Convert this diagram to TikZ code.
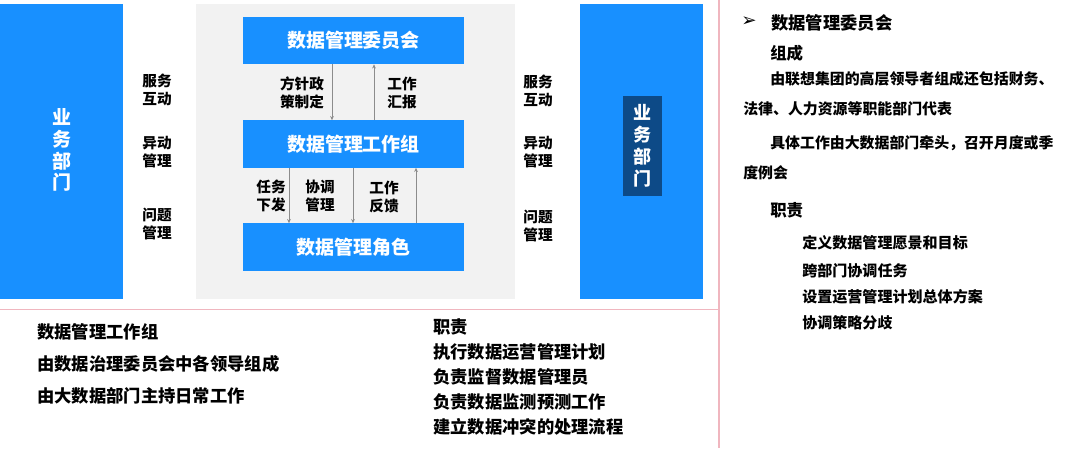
\documentclass[tikz,border=0pt]{standalone}
\usepackage{fontspec}
\setmainfont{Noto Sans CJK SC}
\newfontfamily\symfont{DejaVu Sans}
\usetikzlibrary{arrows.meta,positioning}
\definecolor{deptblue}{HTML}{1890FF}
\definecolor{deptdark}{HTML}{0D4A87}
\definecolor{panelgray}{HTML}{F2F2F2}
\definecolor{rulepink}{HTML}{F0B6BF}
\definecolor{arrowgray}{HTML}{8C8C8C}

\begin{document}
\begin{tikzpicture}[>={Stealth[length=3pt,width=2.6pt]}, x=0.025cm, y=-0.025cm]
\tikzstyle{blk}=[rectangle,fill=deptblue,text=white,inner sep=0pt,minimum width=5.525cm,minimum height=1.175cm,font=\fontsize{13.5}{16}\selectfont\bfseries]
\tikzstyle{dept}=[rectangle,fill=deptblue,inner sep=0pt,minimum width=3.075cm,minimum height=7.375cm]
\tikzstyle{lbl}=[align=center,inner sep=0pt,font=\fontsize{10.4}{12.6}\selectfont\bfseries]
\tikzstyle{txt}=[anchor=west,inner sep=0pt,font=\fontsize{10.6}{12}\selectfont\bfseries]
\tikzstyle{big}=[anchor=west,inner sep=0pt,font=\fontsize{12.3}{14}\selectfont\bfseries]
\tikzstyle{flow}=[->,draw=arrowgray,line width=0.5pt]
\useasboundingbox (0,0) rectangle (1080,448);

% outer departments and the grey panel
\node[dept] (ldept) at (61.5,151.5) {};
\node[dept] (rdept) at (641.5,151.5) {};
\node[rectangle,fill=panelgray,inner sep=0pt,minimum width=7.975cm,minimum height=7.375cm] (panel) at (355.5,151.5) {};
\node[align=center,text=white,inner sep=0pt,font=\fontsize{13.5}{15.6}\selectfont\bfseries] (ltxt) at (62,150) {业\\务\\部\\门};
\node[rectangle,fill=deptdark,text=white,align=center,inner sep=0pt,minimum width=0.975cm,minimum height=2.5cm,font=\fontsize{12.8}{15.6}\selectfont\bfseries] (rtxt) at (642.5,146) {业\\务\\部\\门};

% three levels
\node[blk] (cmt) at (353.5,40.5) {数据管理委员会};
\node[blk] (wg)  at (353.5,144)  {数据管理工作组};
\node[blk] (role) at (353.5,247) {数据管理角色};

\draw[flow] ([xshift=-0.5375cm]cmt.south) -- ([xshift=-0.5375cm]wg.north);
\draw[flow] ([xshift=0.5125cm]wg.north) -- ([xshift=0.5125cm]cmt.south);
\draw[flow] ([xshift=-1.6125cm]wg.south) -- ([xshift=-1.6125cm]role.north);
\draw[flow] ([xshift=-0.0125cm]wg.south) -- ([xshift=-0.0125cm]role.north);
\draw[flow] ([xshift=1.5625cm]role.north) -- ([xshift=1.5625cm]wg.south);

\node[lbl] (fz) at (302,93)  {方针政\\策制定};
\node[lbl] (hb) at (402,93)  {工作\\汇报};
\node[lbl] (rw) at (271,196) {任务\\下发};
\node[lbl] (xt) at (320,196) {协调\\管理};
\node[lbl] (fk) at (384,197) {工作\\反馈};

\node[lbl] (l1) at (157,90)  {服务\\互动};
\node[lbl] (l2) at (157,152) {异动\\管理};
\node[lbl] (l3) at (157,224) {问题\\管理};
\node[lbl] (r1) at (538,91)  {服务\\互动};
\node[lbl] (r2) at (538,152) {异动\\管理};
\node[lbl] (r3) at (538,226) {问题\\管理};

% separators
\coordinate (vtop) at (719,0);
\coordinate (vbot) at (719,448);
\coordinate (hl) at (0,309.5);
\coordinate (hr) at (719,309.5);
\draw[rulepink,line width=0.8pt] (vtop) -- (vbot);
\draw[rulepink,line width=0.8pt] (hl) -- (hr);

% committee notes
\node[inner sep=0pt,font=\symfont\fontsize{13}{14}\selectfont] (bul) at (749,22) {➢};
\node[txt,font=\fontsize{12.3}{14}\selectfont\bfseries] (h1) at (771,23) {数据管理委员会};
\node[txt,font=\fontsize{11.7}{14}\selectfont\bfseries] (h2) at (770,53) {组成};
\node[txt] (c1) at (770,79)  {由联想集团的高层领导者组成还包括财务、};
\node[txt] (c2) at (743,109) {法律、人力资源等职能部门代表};
\node[txt] (c3) at (770,143) {具体工作由大数据部门牵头，召开月度或季};
\node[txt] (c4) at (743,173) {度例会};
\node[txt,font=\fontsize{11.7}{14}\selectfont\bfseries] (h3) at (770,210) {职责};
\node[txt,font=\fontsize{10.7}{12}\selectfont\bfseries] (d1) at (802,243) {定义数据管理愿景和目标};
\node[txt,font=\fontsize{10.7}{12}\selectfont\bfseries] (d2) at (802,271) {跨部门协调任务};
\node[txt,font=\fontsize{10.7}{12}\selectfont\bfseries] (d3) at (802,297) {设置运营管理计划总体方案};
\node[txt,font=\fontsize{10.7}{12}\selectfont\bfseries] (d4) at (802,323) {协调策略分歧};

% working group notes
\node[big] (g1) at (37,332) {数据管理工作组};
\node[big] (g2) at (37,364) {由数据治理委员会中各领导组成};
\node[big] (g3) at (37,396) {由大数据部门主持日常工作};
\node[big] (j0) at (433,327) {职责};
\node[big] (j1) at (433,352) {执行数据运营管理计划};
\node[big] (j2) at (433,377) {负责监督数据管理员};
\node[big] (j3) at (433,402) {负责数据监测预测工作};
\node[big] (j4) at (433,427) {建立数据冲突的处理流程};
\end{tikzpicture}
\end{document}
